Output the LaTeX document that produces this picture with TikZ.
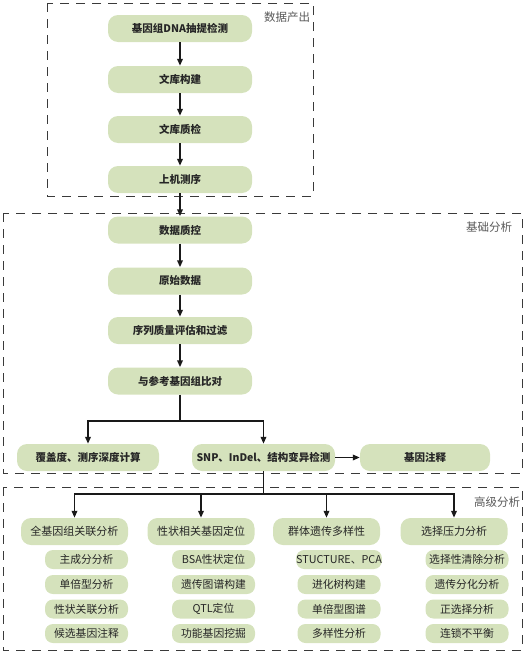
\documentclass[tikz,border=0pt]{standalone}
\usepackage{fontspec}
\setmainfont{Noto Sans CJK SC}
\usetikzlibrary{arrows.meta}
\definecolor{boxgreen}{HTML}{D5E2BC}
\definecolor{txt}{HTML}{262626}
\definecolor{frame}{HTML}{3A3A3A}
\tikzset{
  base/.style={fill=boxgreen, draw=none, text=txt, inner sep=0pt, align=center},
  mainbox/.style={base, rounded corners=10pt, minimum width=144pt, minimum height=27pt, font=\fontsize{10.5}{12}\selectfont\bfseries},
  headbox/.style={base, rounded corners=10pt, minimum width=107pt, minimum height=27pt, font=\fontsize{11}{13}\selectfont},
  subbox/.style={base, rounded corners=8pt, minimum width=83pt, minimum height=19pt, font=\fontsize{10.8}{12}\selectfont},
  area/.style={draw=frame, line width=0.9pt, dash pattern=on 9pt off 7pt},
  arealabel/.style={text=black!65, font=\fontsize{11.5}{13}\selectfont, inner sep=0pt},
  arr/.style={draw=black!90, line width=1.8pt, -{Triangle[length=7pt,width=5.5pt]}},
  ln/.style={draw=black!90, line width=1.8pt},
}
\begin{document}
\begin{tikzpicture}[x=1pt,y=-1pt]
\useasboundingbox (0,0) rectangle (527,653);
% areas
\draw[area] (47,3) rectangle (313,196);
\draw[area] (3,213) rectangle (522,473);
\draw[area] (3,487) rectangle (522,650);
\node[arealabel] (l1) at (287,17) {数据产出};
\node[arealabel] (l2) at (489,227) {基础分析};
\node[arealabel] (l3) at (497,502) {高级分析};
% main column
\node[mainbox] (n1) at (180,28.5) {基因组DNA抽提检测};
\node[mainbox] (n2) at (180,79.5) {文库构建};
\node[mainbox] (n3) at (180,129.5) {文库质检};
\node[mainbox] (n4) at (180,179.5) {上机测序};
\node[mainbox] (n5) at (180,230) {数据质控};
\node[mainbox] (n6) at (180,281) {原始数据};
\node[mainbox] (n7) at (180,330.5) {序列质量评估和过滤};
\node[mainbox] (n8) at (180,381) {与参考基因组比对};
\draw[arr] (n1) -- (n2);
\draw[arr] (n2) -- (n3);
\draw[arr] (n3) -- (n4);
\draw[arr] (n4) -- (n5);
\draw[arr] (n5) -- (n6);
\draw[arr] (n6) -- (n7);
\draw[arr] (n7) -- (n8);
% bottom row of basic analysis
\node[mainbox, minimum width=142pt] (cov) at (88,457.5) {覆盖度、测序深度计算};
\node[mainbox, minimum width=143pt] (snp) at (263.5,457.5) {SNP、InDel、结构变异检测};
\node[mainbox, minimum width=130pt] (ann) at (425,457.5) {基因注释};
\coordinate (b1) at (180,421);
\draw[ln] (n8.south) -- (b1);
\draw[arr] (b1) -| (cov.north);
\draw[arr] (b1) -| (snp.north);
\draw[arr] (snp) -- (ann);
% advanced analysis
\node[headbox] (h1) at (74.5,531.5) {全基因组关联分析};
\node[headbox] (h2) at (201,531.5) {性状相关基因定位};
\node[headbox] (h3) at (326.5,531.5) {群体遗传多样性};
\node[headbox] (h4) at (454,531.5) {选择压力分析};
\coordinate (b2) at (263.5,494);
\draw[ln] (snp.south) -- (b2);
\draw[arr] (b2) -| (h1.north);
\draw[arr] (b2) -| (h2.north);
\draw[arr] (b2) -| (h3.north);
\draw[arr] (b2) -| (h4.north);
% sub items
\node[subbox] (s11) at (86.5,559.5) {主成分分析};
\node[subbox] (s12) at (86.5,584.5) {单倍型分析};
\node[subbox] (s13) at (86.5,609) {性状关联分析};
\node[subbox] (s14) at (86.5,633.5) {候选基因注释};
\node[subbox] (s21) at (213.5,559.5) {BSA性状定位};
\node[subbox] (s22) at (213.5,584.5) {遗传图谱构建};
\node[subbox] (s23) at (213.5,609) {QTL定位};
\node[subbox] (s24) at (213.5,633.5) {功能基因挖掘};
\node[subbox] (s31) at (339,559.5) {STUCTURE、PCA};
\node[subbox] (s32) at (339,584.5) {进化树构建};
\node[subbox] (s33) at (339,609) {单倍型图谱};
\node[subbox] (s34) at (339,633.5) {多样性分析};
\node[subbox] (s41) at (467,559.5) {选择性清除分析};
\node[subbox] (s42) at (467,584.5) {遗传分化分析};
\node[subbox] (s43) at (467,609) {正选择分析};
\node[subbox] (s44) at (467,633.5) {连锁不平衡};
\end{tikzpicture}
\end{document}
